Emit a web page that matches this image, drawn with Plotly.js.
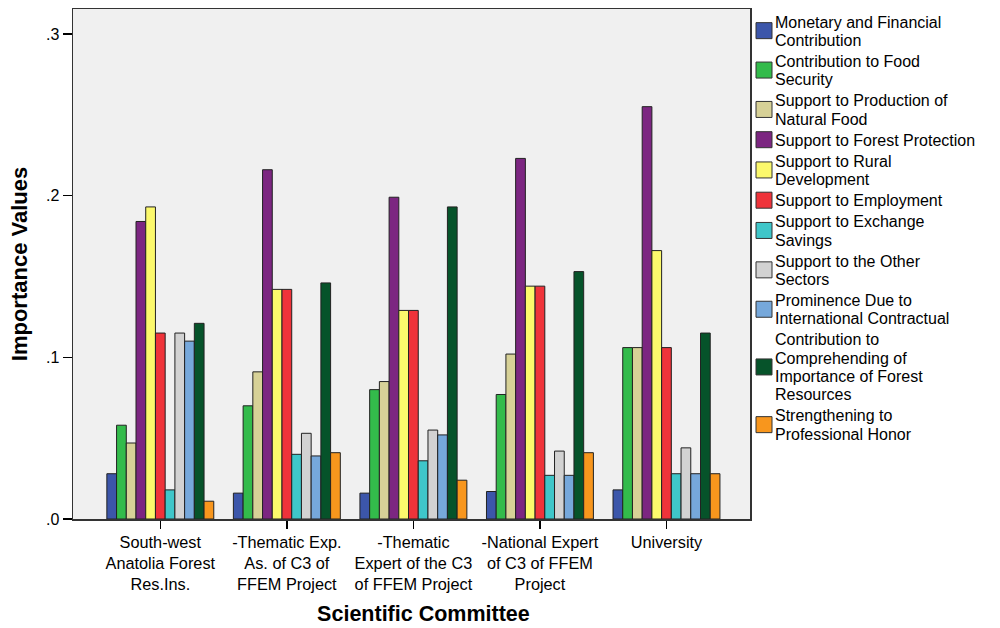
<!DOCTYPE html>
<html>
<head>
<meta charset="utf-8">
<script src="https://cdn.plot.ly/plotly-3.0.1.min.js"></script>
<style>html,body{margin:0;padding:0;background:#fff;}#chart{width:1000px;height:628px;}</style>
</head>
<body>
<div id="chart"></div>
<script>
const categories = [
  "South-west<br>Anatolia Forest<br>Res.Ins.",
  "-Thematic Exp.<br>As. of C3 of<br>FFEM Project",
  "-Thematic<br>Expert of the C3<br>of FFEM Project",
  "-National Expert<br>of C3 of FFEM<br>Project",
  "University"
];
const seriesNames = [
  "Monetary and Financial<br>Contribution",
  "Contribution to Food<br>Security",
  "Support to Production of<br>Natural Food",
  "Support to Forest Protection",
  "Support to Rural<br>Development",
  "Support to Employment",
  "Support to Exchange<br>Savings",
  "Support to the Other<br>Sectors",
  "Prominence Due to<br>International Contractual",
  "Contribution to<br>Comprehending of<br>Importance of Forest<br>Resources",
  "Strengthening to<br>Professional Honor"
];
const monetary      = [0.028, 0.016, 0.016, 0.017, 0.018];
const foodSecurity  = [0.058, 0.070, 0.080, 0.077, 0.106];
const naturalFood   = [0.047, 0.091, 0.085, 0.102, 0.106];
const forestProt    = [0.184, 0.216, 0.199, 0.223, 0.255];
const ruralDev      = [0.193, 0.142, 0.129, 0.144, 0.166];
const employment    = [0.115, 0.142, 0.129, 0.144, 0.106];
const exchange      = [0.018, 0.040, 0.036, 0.027, 0.028];
const otherSectors  = [0.115, 0.053, 0.055, 0.042, 0.044];
const prominence    = [0.110, 0.039, 0.052, 0.027, 0.028];
const comprehending = [0.121, 0.146, 0.193, 0.153, 0.115];
const honor         = [0.011, 0.041, 0.024, 0.041, 0.028];
const seriesValues = [monetary, foodSecurity, naturalFood, forestProt, ruralDev, employment,
                      exchange, otherSectors, prominence, comprehending, honor];
const colors = ["#3c56aa", "#33bb4b", "#d7d197", "#7c2681", "#fcf96c", "#ef333a",
                "#3fc6c9", "#d2d2d2", "#76a8db", "#06532a", "#f8961d"];
const yTickVals = [0, 0.1, 0.2, 0.3];
const yTickText = [".0", ".1", ".2", ".3"];

// plot-area geometry (pixels) for the hand-built legend
const M = {l: 73, r: 250, t: 9, b: 109};
const W = 1000, H = 628;
const pw = W - M.l - M.r, ph = H - M.t - M.b;
const px2x = px => (px - M.l) / pw;
const py2y = py => (H - M.b - py) / ph;

const xIdx = categories.map((c, i) => i);
const traces = seriesNames.map((name, i) => ({
  type: "bar",
  name: name.replace(/<br>/g, " "),
  x: xIdx,
  y: seriesValues[i],
  marker: {color: colors[i], line: {color: "#222", width: 1}},
  showlegend: false
}));

// legend built from seriesNames/colors
const annotations = [];
const shapes = [];
const lineH = 18.3, gap = 2.8;
let yLine = 22;
seriesNames.forEach((name, i) => {
  const lines = name.split("<br>");
  const first = yLine;
  lines.forEach((ln, k) => {
    annotations.push({
      xref: "paper", yref: "paper",
      x: px2x(775), y: py2y(yLine + k * lineH),
      xanchor: "left", yanchor: "middle",
      text: ln, showarrow: false, align: "left",
      borderpad: 0, borderwidth: 0,
      font: {family: "Liberation Sans, Arial, sans-serif", size: 16, color: "#000"}
    });
  });
  const last = yLine + (lines.length - 1) * lineH;
  const mid = (first + last) / 2 - 0.5;
  shapes.push({
    type: "rect", xref: "paper", yref: "paper",
    x0: px2x(756), x1: px2x(772), y0: py2y(mid + 8), y1: py2y(mid - 8),
    fillcolor: colors[i], line: {color: "#333", width: 1}
  });
  yLine += lines.length * lineH + gap;
});

const layout = {
  width: W, height: H,
  margin: M,
  paper_bgcolor: "#ffffff",
  plot_bgcolor: "#f0f0f0",
  barmode: "group",
  bargap: 0.155,
  bargroupgap: 0,
  font: {family: "Liberation Sans, Arial, sans-serif", color: "#000", size: 15},
  showlegend: false,
  annotations: annotations,
  shapes: shapes,
  xaxis: {
    range: [-0.69, 4.66],
    tickvals: xIdx,
    ticktext: categories,
    ticks: "outside", ticklen: 8, tickcolor: "#000", tickwidth: 1.5,
    showline: true, linecolor: "#333", linewidth: 1.5, mirror: true,
    showgrid: false, zeroline: false,
    tickfont: {family: "Liberation Sans, Arial, sans-serif", size: 16.3},
    title: {text: "<b>&nbsp;&nbsp;&nbsp;&nbsp;Scientific Committee</b>", font: {family: "Liberation Sans, Arial, sans-serif", size: 21.5}, standoff: 13}
  },
  yaxis: {
    range: [0, 0.3154],
    tickvals: yTickVals,
    ticktext: yTickText,
    ticks: "outside", ticklen: 9, tickcolor: "#000", tickwidth: 1.5,
    showline: true, linecolor: "#333", linewidth: 1.5, mirror: true,
    showgrid: false, zeroline: false,
    tickfont: {family: "Liberation Sans, Arial, sans-serif", size: 16},
    title: {text: "<b>Importance Values</b>", font: {family: "Liberation Sans, Arial, sans-serif", size: 22}, standoff: 12}
  }
};
Plotly.newPlot("chart", traces, layout, {displayModeBar: false, staticPlot: true});
</script>
</body>
</html>
